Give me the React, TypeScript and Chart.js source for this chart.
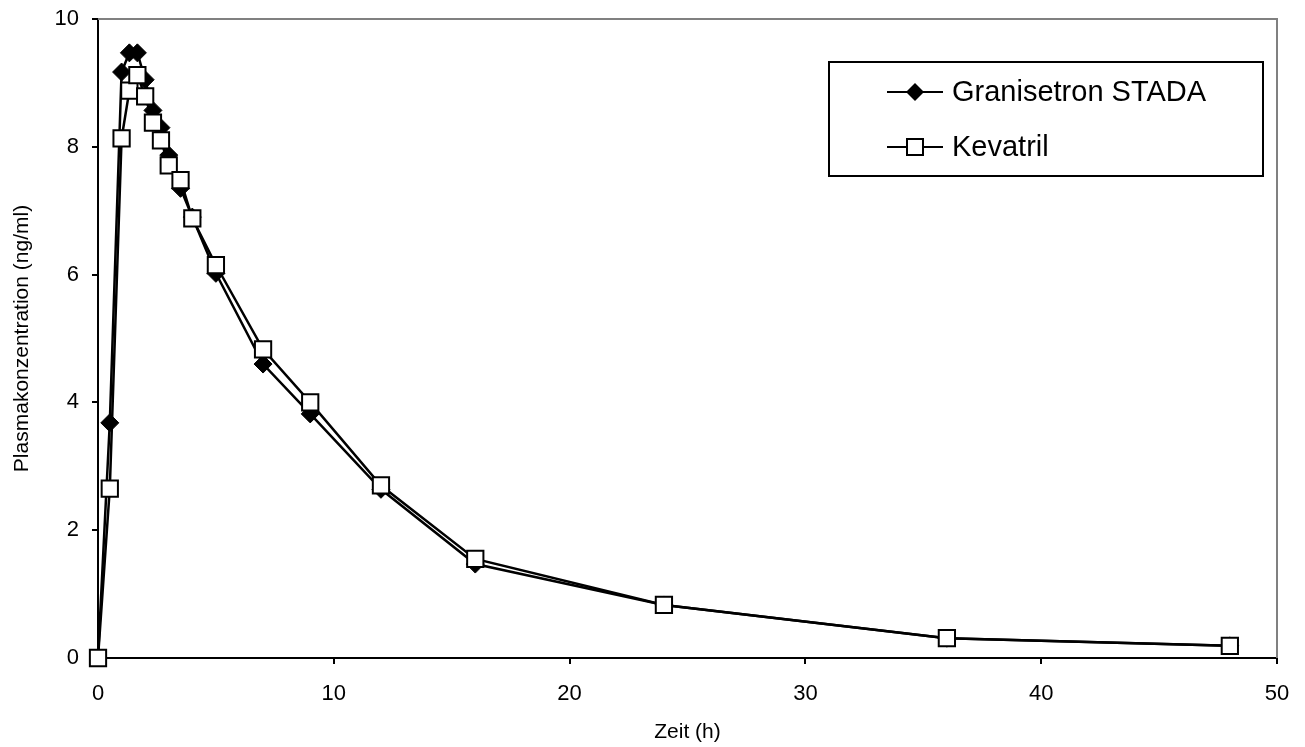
import React, { useEffect, useRef } from "react";
import { Chart, registerables } from "chart.js";

Chart.register(...registerables);

const times = [0, 0.5, 1, 1.33, 1.67, 2, 2.33, 2.67, 3, 3.5, 4, 5, 7, 9, 12, 16, 24, 36, 48];
const granisetron = [0, 3.68, 9.17, 9.47, 9.47, 9.05, 8.57, 8.3, 7.87, 7.35, 6.9, 6.02, 4.6, 3.82, 2.64, 1.47, 0.83, 0.31, 0.19];
const kevatril = [0, 2.65, 8.13, 8.88, 9.12, 8.79, 8.38, 8.1, 7.71, 7.48, 6.88, 6.15, 4.83, 4.0, 2.7, 1.55, 0.83, 0.31, 0.19];
const seriesNames = ["Granisetron STADA", "Kevatril"];
const xTitle = "Zeit (h)";
const yTitle = "Plasmakonzentration (ng/ml)";

const FONT = "'Liberation Sans', Arial, sans-serif";

const frameAndLegend = {
  id: "frameAndLegend",
  beforeDatasetsDraw(chart: any) {
    const { ctx, chartArea } = chart;
    ctx.save();
    ctx.strokeStyle = "#808080";
    ctx.lineWidth = 2;
    ctx.beginPath();
    ctx.moveTo(chartArea.left, chartArea.top);
    ctx.lineTo(chartArea.right, chartArea.top);
    ctx.lineTo(chartArea.right, chartArea.bottom);
    ctx.stroke();
    ctx.restore();
  },
  afterDatasetsDraw(chart: any) {
    const { ctx } = chart;
    ctx.save();
    const bx = 829, by = 62, bw = 434, bh = 114;
    ctx.fillStyle = "#fff";
    ctx.fillRect(bx, by, bw, bh);
    ctx.strokeStyle = "#000";
    ctx.lineWidth = 2;
    ctx.strokeRect(bx, by, bw, bh);

    const rows = [92, 147];
    chart.data.datasets.forEach((ds: any, i: number) => {
      const y = rows[i];
      ctx.strokeStyle = "#000";
      ctx.lineWidth = 2;
      ctx.beginPath();
      ctx.moveTo(887, y);
      ctx.lineTo(943, y);
      ctx.stroke();
      const cx = 915;
      if (ds.pointStyle === "rectRot") {
        ctx.fillStyle = "#000";
        ctx.beginPath();
        const r = 9;
        ctx.moveTo(cx, y - r);
        ctx.lineTo(cx + r, y);
        ctx.lineTo(cx, y + r);
        ctx.lineTo(cx - r, y);
        ctx.closePath();
        ctx.fill();
      } else {
        ctx.fillStyle = "#fff";
        ctx.fillRect(cx - 8, y - 8, 16, 16);
        ctx.strokeRect(cx - 8, y - 8, 16, 16);
      }
      ctx.fillStyle = "#000";
      ctx.font = `29px ${FONT}`;
      ctx.textBaseline = "middle";
      ctx.textAlign = "left";
      ctx.fillText(ds.label, 952, y + 1);
    });
    ctx.restore();
  },
};

export default function App() {
  const ref = useRef<HTMLCanvasElement | null>(null);
  useEffect(() => {
    if (!ref.current) return;
    const chart = new Chart(ref.current, {
      type: "line",
      data: {
        datasets: [
          {
            label: seriesNames[0],
            data: times.map((t, i) => ({ x: t, y: granisetron[i] })),
            borderColor: "#000",
            backgroundColor: "#000",
            borderWidth: 2.5,
            pointStyle: "rectRot",
            pointRadius: 9,
            pointBorderWidth: 1,
            pointBorderColor: "#000",
            pointBackgroundColor: "#000",
            tension: 0,
            clip: false,
            order: 1,
          },
          {
            label: seriesNames[1],
            data: times.map((t, i) => ({ x: t, y: kevatril[i] })),
            borderColor: "#000",
            backgroundColor: "#fff",
            borderWidth: 2.5,
            pointStyle: "rect",
            pointRadius: 11.5,
            pointBorderWidth: 2,
            pointBorderColor: "#000",
            pointBackgroundColor: "#fff",
            tension: 0,
            clip: false,
            order: 0,
          },
        ],
      },
      options: {
        responsive: false,
        animation: false,
        devicePixelRatio: 1,
        layout: { padding: { left: 0, top: 19, right: 28, bottom: 0 } },
        plugins: { legend: { display: false }, tooltip: { enabled: false } },
        scales: {
          x: {
            type: "linear",
            min: 0,
            max: 50,
            ticks: { stepSize: 10, color: "#000", padding: 17, font: { family: FONT, size: 22 } },
            grid: { drawOnChartArea: false, drawTicks: true, tickLength: 6, color: "#000", lineWidth: 2 },
            border: { color: "#000", width: 2 },
            title: { display: true, text: xTitle, color: "#000", font: { family: FONT, size: 21 }, padding: { top: 0, bottom: 2 } },
            afterFit: (s: any) => { s.height = 89; s.paddingLeft = 0; s.paddingRight = 0; },
          },
          y: {
            min: 0,
            max: 10,
            ticks: { stepSize: 2, color: "#000", padding: 13, font: { family: FONT, size: 22 } },
            grid: { drawOnChartArea: false, drawTicks: true, tickLength: 6, color: "#000", lineWidth: 2 },
            border: { color: "#000", width: 2 },
            title: { display: true, text: yTitle, color: "#000", font: { family: FONT, size: 21 }, padding: { top: 10, bottom: 0 } },
            afterFit: (s: any) => { s.width = 98; s.paddingTop = 0; s.paddingBottom = 0; },
          },
        },
      },
      plugins: [frameAndLegend],
    } as any);
    return () => chart.destroy();
  }, []);
  return (
    <div style={{ position: "absolute", left: 0, top: 0, width: 1305, height: 747, background: "#fff" }}>
      <canvas ref={ref} width={1305} height={747} style={{ width: 1305, height: 747, display: "block" }} />
    </div>
  );
}
